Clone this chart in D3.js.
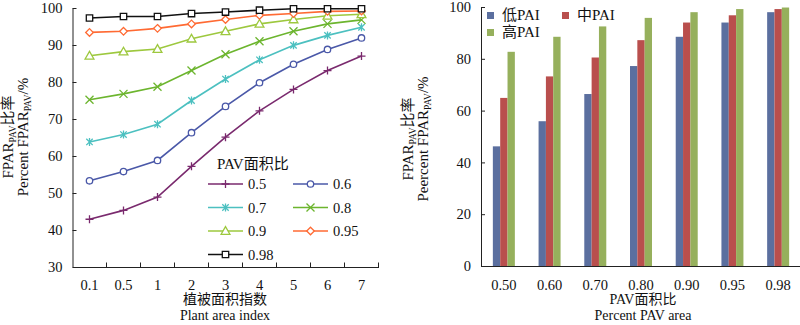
<!DOCTYPE html>
<html>
<head>
<meta charset="utf-8">
<script src="https://cdn.jsdelivr.net/npm/d3@7"></script>
<style>
  body { margin: 0; background: #fff; }
  svg text { font-family: "Liberation Serif", "Noto Sans CJK SC", serif; fill: #111; }
</style>
</head>
<body>
<div class="chart"></div>
<script>
// left chart: plant area index vs FPAR ratio
var paiLabels = ["0.1", "0.5", "1", "2", "3", "4", "5", "6", "7"];
var pavSeries = ["0.5", "0.6", "0.7", "0.8", "0.9", "0.95", "0.98"];
var s05 = [42.9, 45.3, 48.9, 57.2, 65.1, 72.2, 78.0, 83.1, 87.0];
var s06 = [53.3, 55.8, 58.8, 66.3, 73.4, 79.8, 84.8, 88.8, 91.9];
var s07 = [63.8, 65.8, 68.6, 75.0, 80.8, 86.0, 89.9, 92.6, 94.8];
var s08 = [75.2, 76.8, 78.7, 83.1, 87.5, 91.0, 93.7, 95.7, 96.8];
var s09 = [87.1, 88.2, 88.9, 91.7, 93.7, 95.7, 96.9, 97.9, 98.3];
var s095 = [93.4, 93.7, 94.5, 95.7, 96.9, 98.0, 98.5, 99.1, 99.2];
var s098 = [97.3, 97.7, 97.7, 98.5, 98.9, 99.4, 99.8, 99.8, 99.8];
var leftTicks = [30, 40, 50, 60, 70, 80, 90, 100];

// right chart: PAV area ratio vs FPAR ratio for 3 PAI levels
var pavCats = ["0.50", "0.60", "0.70", "0.80", "0.90", "0.95", "0.98"];
var paiGroups = ["低PAI", "中PAI", "高PAI"];
var lowPAI = [46.2, 55.9, 66.4, 77.2, 88.5, 94.0, 98.0];
var midPAI = [64.9, 73.2, 80.5, 87.2, 94.0, 96.8, 99.2];
var highPAI = [82.7, 88.5, 92.5, 95.8, 98.0, 99.2, 99.8];
var rightTicks = [0, 20, 40, 60, 80, 100];

var lineSeries = [s05, s06, s07, s08, s09, s095, s098];
var lineColors = ["#7a2a6e", "#4a58a8", "#4cc0c0", "#6cb52e", "#9dc83e", "#ff6a33", "#111111"];
var lineMarkers = ["plus", "circle", "asterisk", "times", "triangle", "diamond", "square"];
var barColors = ["#5b6f9f", "#b94f4d", "#96b05c"];

var svg = d3.select(".chart").append("svg")
    .attr("width", 800)
    .attr("height", 325);

function markerPath(type, r) {
    if (type == "plus") return "M" + (-r) + ",0H" + r + "M0," + (-r) + "V" + r;
    if (type == "times") return "M" + (-r) + "," + (-r) + "L" + r + "," + r + "M" + (-r) + "," + r + "L" + r + "," + (-r);
    if (type == "asterisk") return markerPath("times", r * 0.8) + "M0," + (-r) + "V" + r;
    if (type == "circle") return "M" + r + ",0A" + r + "," + r + " 0 1,1 " + (-r) + ",0A" + r + "," + r + " 0 1,1 " + r + ",0Z";
    if (type == "triangle") return "M0," + (-r) + "L" + r + "," + (r * 0.75) + "L" + (-r) + "," + (r * 0.75) + "Z";
    if (type == "diamond") return "M0," + (-r) + "L" + r + ",0L0," + r + "L" + (-r) + ",0Z";
    return "M" + (-r) + "," + (-r) + "H" + r + "V" + r + "H" + (-r) + "Z";
}
function markerSize(type) {
    if (type == "circle") return 3.2;
    if (type == "square") return 3.2;
    if (type == "diamond") return 3.8;
    if (type == "triangle") return 4.4;
    return 4;
}
function isOpen(type) {
    return type == "circle" || type == "triangle" || type == "diamond" || type == "square";
}

function yTitle(g, x, y, line2) {
    var t = g.append("text")
        .attr("transform", "translate(" + x + "," + y + ") rotate(-90)")
        .attr("text-anchor", "middle")
        .style("font-size", "15px");
    t.append("tspan").text("FPAR");
    t.append("tspan").attr("dy", 3).style("font-size", "9.5px").text("PAV");
    t.append("tspan").attr("dy", -3).text("比率");
    var t2 = g.append("text")
        .attr("transform", "translate(" + (x + 15) + "," + y + ") rotate(-90)")
        .attr("text-anchor", "middle")
        .style("font-size", "15px");
    t2.append("tspan").text(line2 + " FPAR");
    t2.append("tspan").attr("dy", 3).style("font-size", "9.5px").text("PAV");
    t2.append("tspan").attr("dy", -3).text("/%");
}

// ---------- left chart ----------
var left = svg.append("g");
var xL = d3.scaleBand().domain(paiLabels).range([72.5, 378.5]);
var yL = d3.scaleLinear().domain([30, 100]).range([267, 8]);

left.append("g")
    .attr("transform", "translate(72.5,0)")
    .call(d3.axisLeft(yL).tickValues(leftTicks).tickSize(-4).tickSizeOuter(0).tickPadding(10))
    .call(function(g) {
        g.selectAll("text").style("font-size", "14.5px").style("font-family", "Liberation Serif");
        g.selectAll("line, path").attr("stroke", "#222");
    });

left.append("g")
    .attr("transform", "translate(0,267)")
    .call(d3.axisBottom(xL).tickSize(0).tickSizeOuter(0).tickPadding(13))
    .call(function(g) {
        g.selectAll("text").style("font-size", "14.5px").style("font-family", "Liberation Serif");
        g.select(".domain").attr("stroke", "#222");
    });

// band boundary ticks pointing up
left.append("g").selectAll("line")
    .data(paiLabels)
    .enter().append("line")
    .attr("x1", function(d) { return xL(d) + xL.bandwidth(); })
    .attr("x2", function(d) { return xL(d) + xL.bandwidth(); })
    .attr("y1", 267).attr("y2", 262.5)
    .attr("stroke", "#222");

var line = d3.line()
    .x(function(d, i) { return xL(paiLabels[i]) + xL.bandwidth() / 2; })
    .y(function(d) { return yL(d); });

lineSeries.forEach(function(series, k) {
    var g = left.append("g");
    g.append("path")
        .attr("d", line(series))
        .attr("fill", "none")
        .attr("stroke", lineColors[k])
        .attr("stroke-width", 1.6);
    g.selectAll("path.m")
        .data(series)
        .enter().append("path")
        .attr("class", "m")
        .attr("transform", function(d, i) {
            return "translate(" + (xL(paiLabels[i]) + xL.bandwidth() / 2) + "," + yL(d) + ")";
        })
        .attr("d", markerPath(lineMarkers[k], markerSize(lineMarkers[k])))
        .attr("fill", isOpen(lineMarkers[k]) ? "#fff" : "none")
        .attr("stroke", lineColors[k])
        .attr("stroke-width", 1.3);
});

// legend
var leg = left.append("g");
leg.append("text")
    .attr("x", 217).attr("y", 169)
    .style("font-size", "15px")
    .text("PAV面积比");
var legX = [208, 293];
var legY = [184, 207.5, 231, 254.5];
pavSeries.forEach(function(name, k) {
    var lx = legX[k % 2], ly = legY[Math.floor(k / 2)];
    leg.append("line")
        .attr("x1", lx).attr("x2", lx + 35)
        .attr("y1", ly).attr("y2", ly)
        .attr("stroke", lineColors[k]).attr("stroke-width", 1.6);
    leg.append("path")
        .attr("transform", "translate(" + (lx + 17.5) + "," + ly + ")")
        .attr("d", markerPath(lineMarkers[k], markerSize(lineMarkers[k])))
        .attr("fill", isOpen(lineMarkers[k]) ? "#fff" : "none")
        .attr("stroke", lineColors[k]).attr("stroke-width", 1.3);
    leg.append("text")
        .attr("x", lx + 40).attr("y", ly + 5)
        .style("font-size", "14.5px")
        .text(name);
});

yTitle(left, 13, 137, "Percent");

left.append("text")
    .attr("x", 225).attr("y", 304)
    .attr("text-anchor", "middle")
    .style("font-size", "14px")
    .text("植被面积指数");
left.append("text")
    .attr("x", 225).attr("y", 320)
    .attr("text-anchor", "middle")
    .style("font-size", "14px")
    .text("Plant area index");

// ---------- right chart ----------
var right = svg.append("g");
var xR = d3.scaleBand().domain(pavCats).range([481, 801]);
var xSub = d3.scaleBand().domain(paiGroups)
    .range([xR.bandwidth() / 2 - 11, xR.bandwidth() / 2 + 11]);
var yR = d3.scaleLinear().domain([0, 100]).range([266, 7]);

var barData = pavCats.map(function(c, i) {
    return [lowPAI[i], midPAI[i], highPAI[i]];
});

right.append("g").selectAll("g")
    .data(barData)
    .enter().append("g")
    .attr("transform", function(d, i) { return "translate(" + xR(pavCats[i]) + ",0)"; })
    .selectAll("rect")
    .data(function(d) { return d; })
    .enter().append("rect")
    .attr("x", function(d, j) { return xSub(paiGroups[j]); })
    .attr("width", xSub.bandwidth())
    .attr("y", function(d) { return yR(d); })
    .attr("height", function(d) { return yR(0) - yR(d); })
    .attr("fill", function(d, j) { return barColors[j]; });

right.append("g")
    .attr("transform", "translate(481,0)")
    .call(d3.axisLeft(yR).tickValues(rightTicks).tickSize(-4).tickSizeOuter(0).tickPadding(10))
    .call(function(g) {
        g.selectAll("text").style("font-size", "14.5px").style("font-family", "Liberation Serif");
        g.selectAll("line, path").attr("stroke", "#222");
    });

right.append("g")
    .attr("transform", "translate(0,266)")
    .call(d3.axisBottom(xR).tickSize(0).tickSizeOuter(0).tickPadding(14))
    .call(function(g) {
        g.selectAll("text").style("font-size", "14.5px").style("font-family", "Liberation Serif");
        g.select(".domain").attr("stroke", "#222");
    });

// legend
var legPos = [[487, 15], [562, 15], [487, 32]];
paiGroups.forEach(function(name, j) {
    right.append("rect")
        .attr("x", legPos[j][0]).attr("y", legPos[j][1] - 3)
        .attr("width", 7).attr("height", 7)
        .attr("fill", barColors[j]);
    right.append("text")
        .attr("x", legPos[j][0] + 15).attr("y", legPos[j][1] + 5)
        .style("font-size", "15px")
        .text(name);
});

yTitle(right, 413, 139, "Peercent");

right.append("text")
    .attr("x", 643).attr("y", 304)
    .attr("text-anchor", "middle")
    .style("font-size", "14px")
    .text("PAV面积比");
right.append("text")
    .attr("x", 643).attr("y", 320)
    .attr("text-anchor", "middle")
    .style("font-size", "14px")
    .text("Percent PAV area");
</script>
</body>
</html>
